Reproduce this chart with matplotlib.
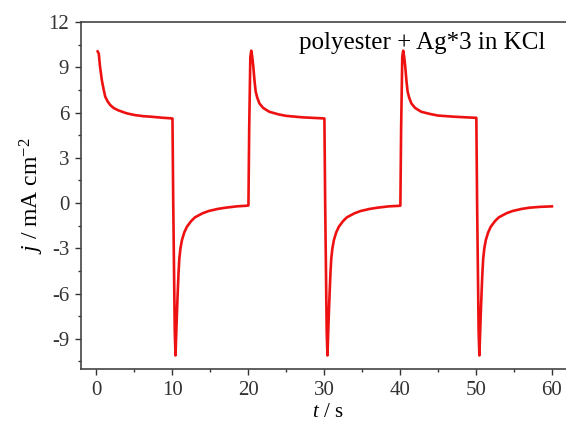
import numpy as np
import matplotlib
matplotlib.use("Agg")
import matplotlib.pyplot as plt
from matplotlib.ticker import MultipleLocator

# chronoamperometry, values (t in s, j in mA cm^-2)
t_an1 = [0.2, 0.35, 0.5, 0.75, 1.0, 1.2, 1.5, 1.85, 2.3, 2.9, 4.0, 5.1, 6.2, 7.3, 8.6, 10.0]
j_an1 = [10.05, 9.9, 9.1, 8.15, 7.5, 7.05, 6.75, 6.5, 6.3, 6.15, 5.95, 5.83, 5.76, 5.72, 5.66, 5.61]

t_ca1 = [10.05, 10.15, 10.35, 10.45, 10.55, 10.65, 10.75, 10.85, 10.95, 11.1, 11.3, 11.6,
         11.95, 12.5, 13.0, 14.0, 14.8, 16.0, 17.0, 18.5, 20.0]
j_ca1 = [5.6, 0.0, -8.5, -10.1, -8.6, -7.1, -5.8, -4.6, -3.7, -3.0, -2.45, -1.95,
         -1.57, -1.2, -0.95, -0.68, -0.53, -0.39, -0.31, -0.22, -0.17]

t_an2 = [20.05, 20.15, 20.3, 20.42, 20.55, 20.7, 20.85, 21.0, 21.2, 21.5, 22.0, 22.8,
         24.0, 25.0, 27.2, 30.0]
j_an2 = [-0.15, 5.0, 9.7, 10.1, 9.7, 9.0, 8.1, 7.4, 7.0, 6.6, 6.3, 6.05,
         5.88, 5.78, 5.68, 5.61]

t_ca2 = [30.05, 30.15, 30.35, 30.45, 30.55, 30.65, 30.75, 30.85, 30.95, 31.1, 31.3, 31.6,
         31.95, 32.5, 33.0, 34.0, 34.8, 36.0, 37.0, 38.5, 40.0]
j_ca2 = [5.6, 0.0, -8.5, -10.1, -8.6, -7.1, -5.8, -4.6, -3.7, -3.0, -2.45, -1.95,
         -1.57, -1.2, -0.95, -0.68, -0.53, -0.39, -0.31, -0.22, -0.18]

t_an3 = [40.05, 40.15, 40.3, 40.42, 40.55, 40.7, 40.85, 41.0, 41.2, 41.5, 42.0, 42.8,
         44.0, 45.0, 47.2, 50.0]
j_an3 = [-0.16, 5.0, 9.7, 10.1, 9.7, 9.0, 8.1, 7.4, 7.0, 6.6, 6.3, 6.05,
         5.9, 5.8, 5.72, 5.65]

t_ca3 = [50.05, 50.15, 50.35, 50.45, 50.55, 50.65, 50.75, 50.85, 50.95, 51.1, 51.3, 51.6,
         51.95, 52.5, 53.0, 54.0, 54.8, 56.0, 57.0, 58.5, 60.0]
j_ca3 = [5.65, 0.0, -8.5, -10.1, -8.6, -7.1, -5.8, -4.6, -3.7, -3.0, -2.45, -1.95,
         -1.57, -1.2, -0.95, -0.68, -0.53, -0.39, -0.31, -0.25, -0.22]

LABEL = "polyester + Ag*3 in KCl"

plt.rcParams["font.family"] = "Liberation Serif"
plt.rcParams["mathtext.fontset"] = "custom"
plt.rcParams["mathtext.rm"] = "Liberation Serif"
plt.rcParams["mathtext.it"] = "Liberation Serif:italic"
plt.rcParams["axes.unicode_minus"] = False


def main():
    t = t_an1 + t_ca1 + t_an2 + t_ca2 + t_an3 + t_ca3
    j = j_an1 + j_ca1 + j_an2 + j_ca2 + j_an3 + j_ca3

    fig = plt.figure(figsize=(5.66, 4.21), dpi=100)
    # right spine sits just outside the picture, as in the cropped original
    ax = fig.add_axes([0.143, 0.1235, 0.8724, 0.8242])
    ax.plot(t, j, color="#ee1111", lw=1.9, solid_joinstyle="round")

    ax.set_xlim(-2, 63)
    ax.set_ylim(-11, 12)
    ax.xaxis.set_major_locator(MultipleLocator(10))
    ax.xaxis.set_minor_locator(MultipleLocator(5))
    ax.yaxis.set_major_locator(MultipleLocator(3))
    ax.yaxis.set_minor_locator(MultipleLocator(1.5))
    ax.tick_params(which="both", direction="out", colors="#333333", labelsize=15, width=1)
    ax.tick_params(which="major", length=4.5, pad=4)
    ax.tick_params(which="minor", length=2.5)
    for s in ax.spines.values():
        s.set_color("#444444")
        s.set_linewidth(1.2)

    ax.set_xlabel(r"$\mathit{t}$ / s", fontsize=15, labelpad=2.5)
    ax.set_ylabel(r"$\mathit{j}$ / mA cm$^{-2}$", fontsize=17, labelpad=2)
    ax.text(0.94, 0.971, LABEL, transform=ax.transAxes, ha="right", va="top", fontsize=18)

    fig.savefig("out.png", dpi=100)


if __name__ == "__main__":
    main()
